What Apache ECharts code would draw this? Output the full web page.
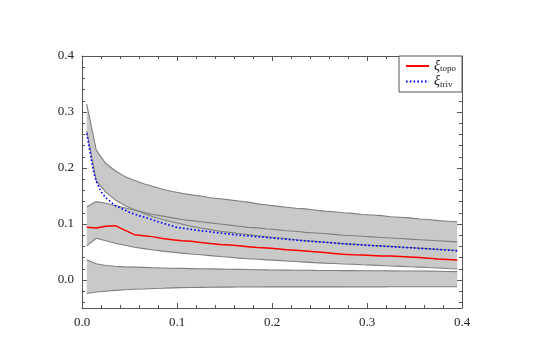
<!DOCTYPE html>
<html>
<head>
<meta charset="utf-8">
<script src="https://cdn.jsdelivr.net/npm/echarts@6/dist/echarts.min.js"></script>
<style>
  html, body { margin: 0; background: #fff; }
  #chart { width: 545px; height: 364px; }
</style>
</head>
<body>
<div id="chart"></div>
<script>
// sample positions shared by the bands and the topo curve
const xs = [0.005, 0.015, 0.025, 0.035, 0.045, 0.055, 0.065, 0.075, 0.085, 0.095,
  0.105, 0.115, 0.125, 0.135, 0.145, 0.155, 0.165, 0.175, 0.185, 0.195,
  0.205, 0.215, 0.225, 0.235, 0.245, 0.255, 0.265, 0.275, 0.285, 0.295,
  0.305, 0.315, 0.325, 0.335, 0.345, 0.355, 0.365, 0.375, 0.385, 0.395]

const upperTop = [0.314, 0.232, 0.208, 0.195, 0.185, 0.178, 0.172, 0.167, 0.162, 0.158,
  0.155, 0.152, 0.150, 0.147, 0.145, 0.143, 0.141, 0.139, 0.136, 0.134,
  0.132, 0.130, 0.128, 0.127, 0.125, 0.123, 0.122, 0.120, 0.119, 0.117,
  0.116, 0.115, 0.113, 0.112, 0.111, 0.109, 0.108, 0.106, 0.105, 0.104]
const upperBottom = [0.266, 0.177, 0.157, 0.143, 0.133, 0.126, 0.119, 0.113, 0.108, 0.104,
  0.100, 0.096, 0.093, 0.090, 0.087, 0.085, 0.083, 0.081, 0.079, 0.077,
  0.0755, 0.074, 0.072, 0.0705, 0.069, 0.0675, 0.066, 0.065, 0.064, 0.063,
  0.062, 0.061, 0.060, 0.059, 0.058, 0.057, 0.056, 0.055, 0.054, 0.053]
const middleTop = [0.131, 0.140, 0.137, 0.133, 0.129, 0.125, 0.121, 0.117, 0.114, 0.111,
  0.108, 0.106, 0.104, 0.102, 0.100, 0.098, 0.096, 0.094, 0.093, 0.091,
  0.090, 0.088, 0.087, 0.085, 0.084, 0.083, 0.0815, 0.080, 0.079, 0.078,
  0.077, 0.076, 0.075, 0.074, 0.073, 0.072, 0.071, 0.070, 0.069, 0.068]
const middleBottom = [0.061, 0.0745, 0.070, 0.0655, 0.062, 0.0585, 0.056, 0.0535, 0.0515, 0.0497,
  0.048, 0.0465, 0.045, 0.0435, 0.042, 0.0405, 0.039, 0.038, 0.037, 0.036,
  0.035, 0.034, 0.033, 0.032, 0.031, 0.0302, 0.0295, 0.0287, 0.028, 0.0272,
  0.0265, 0.0258, 0.025, 0.0243, 0.0236, 0.023, 0.0222, 0.0215, 0.0205, 0.0196]
const lowerTop = [0.036, 0.029, 0.026, 0.0245, 0.0235, 0.023, 0.0225, 0.022, 0.0215, 0.021,
  0.0207, 0.0204, 0.0201, 0.0198, 0.0195, 0.0192, 0.019, 0.0187, 0.0184, 0.0181,
  0.0179, 0.0177, 0.0175, 0.0173, 0.0171, 0.017, 0.0169, 0.0168, 0.0167, 0.0166,
  0.0165, 0.0164, 0.0163, 0.0162, 0.0161, 0.016, 0.0158, 0.0156, 0.0153, 0.015]
const lowerBottom = [-0.024, -0.0215, -0.020, -0.0185, -0.0175, -0.0165, -0.016, -0.0153, -0.0147, -0.014,
  -0.0137, -0.0134, -0.0132, -0.013, -0.0128, -0.0127, -0.0126, -0.0125, -0.0124, -0.0123,
  -0.0123, -0.0123, -0.0123, -0.0123, -0.0123, -0.0123, -0.0123, -0.0122, -0.0122, -0.0122,
  -0.0122, -0.0122, -0.0121, -0.0121, -0.0121, -0.0121, -0.012, -0.012, -0.012, -0.012]

const topo = [0.094, 0.093, 0.096, 0.097, 0.089, 0.081, 0.079, 0.077, 0.074, 0.072,
  0.070, 0.069, 0.067, 0.065, 0.0635, 0.0625, 0.061, 0.0595, 0.058, 0.057,
  0.056, 0.054, 0.053, 0.052, 0.0505, 0.049, 0.0475, 0.046, 0.045, 0.0445,
  0.0438, 0.043, 0.043, 0.042, 0.041, 0.040, 0.039, 0.0375, 0.0365, 0.0355]

const trivX = [0.005, 0.0075, 0.01, 0.0125, 0.015, 0.02, 0.025, 0.03, 0.035, 0.04,
  0.045, 0.05, 0.06, 0.07, 0.08, 0.09, 0.1, 0.12, 0.14, 0.16,
  0.18, 0.2, 0.22, 0.24, 0.26, 0.28, 0.3, 0.32, 0.34, 0.36, 0.38, 0.395]
const triv = [0.262, 0.238, 0.213, 0.191, 0.176, 0.158, 0.147, 0.140, 0.133, 0.129,
  0.125, 0.121, 0.115, 0.110, 0.104, 0.099, 0.094, 0.089, 0.085, 0.081,
  0.078, 0.075, 0.072, 0.069, 0.067, 0.064, 0.062, 0.060, 0.058, 0.056, 0.054, 0.052]

const yMajor = [0, 0.1, 0.2, 0.3, 0.4]
const yMinor = [-0.04, -0.02, 0.02, 0.04, 0.06, 0.08, 0.12, 0.14, 0.16, 0.18,
  0.22, 0.24, 0.26, 0.28, 0.32, 0.34, 0.36, 0.38]

const serif = '"Liberation Serif", "DejaVu Serif", serif'
const frame = '#555'
const fill = '#c9c9c9'
const edgeColor = '#7f7f7f'

const bands = [
  { lo: upperBottom, hi: upperTop },
  { lo: middleBottom, hi: middleTop },
  { lo: lowerBottom, hi: lowerTop },
]

const pairs = (xv, yv) => xv.map((x, i) => [x, yv[i]])

const edge = (yv) => ({
  type: 'line', data: pairs(xs, yv), symbol: 'none', silent: true, z: 2,
  lineStyle: { color: edgeColor, width: 1.1 },
})

const xBase = {
  type: 'value', min: 0, max: 0.4, interval: 0.1,
  axisLine: { show: true, onZero: false, lineStyle: { color: frame, width: 1 } },
  axisTick: { show: true, inside: true, length: 5, lineStyle: { color: frame } },
  minorTick: { show: true, splitNumber: 5, length: 3, lineStyle: { color: frame } },
  splitLine: { show: false },
}
const yBase = {
  type: 'value', min: -0.05, max: 0.4,
  axisLine: { show: true, onZero: false, lineStyle: { color: frame, width: 1 } },
  splitLine: { show: false },
}

const chart = echarts.init(document.getElementById('chart'))
chart.setOption({
  animation: false,
  backgroundColor: '#fff',
  grid: { left: 82, right: 83, top: 56, bottom: 56 },
  xAxis: [
    {
      ...xBase, position: 'bottom',
      axisLabel: { fontFamily: serif, fontSize: 13, color: '#222', margin: 8, formatter: (v) => v.toFixed(1) },
    },
    { ...xBase, position: 'top', axisLabel: { show: false } },
  ],
  yAxis: [
    {
      ...yBase, position: 'left',
      axisTick: { show: true, inside: true, length: 5, customValues: yMajor, lineStyle: { color: frame } },
      axisLabel: { fontFamily: serif, fontSize: 13, color: '#222', margin: 8, customValues: yMajor, formatter: (v) => v.toFixed(1) },
    },
    {
      ...yBase, position: 'right',
      axisTick: { show: true, inside: true, length: 5, customValues: yMajor, lineStyle: { color: frame } },
      axisLabel: { show: false },
    },
    {
      ...yBase, position: 'left', axisLine: { show: false, onZero: false },
      axisTick: { show: true, inside: true, length: 3, customValues: yMinor, lineStyle: { color: frame } },
      axisLabel: { show: false },
    },
    {
      ...yBase, position: 'right', axisLine: { show: false, onZero: false },
      axisTick: { show: true, inside: true, length: 3, customValues: yMinor, lineStyle: { color: frame } },
      axisLabel: { show: false },
    },
  ],
  legend: {
    data: ['topo', 'triv'],
    orient: 'vertical',
    right: 83,
    top: 56,
    padding: [3, 6, 3, 6],
    itemGap: 1,
    itemWidth: 23,
    itemHeight: 10,
    itemStyle: { opacity: 0 },
    borderColor: frame,
    borderWidth: 1,
    borderRadius: 0,
    backgroundColor: '#fff',
    z: 10,
    formatter: (name) => '{g|ξ}{s|' + name + '}',
    textStyle: {
      rich: {
        g: { fontFamily: serif, fontStyle: 'italic', fontSize: 14, color: '#222', lineHeight: 15 },
        s: { fontFamily: serif, fontSize: 9, color: '#222', verticalAlign: 'bottom', lineHeight: 15, padding: [5, 0, 0, 0] },
      },
    },
  },
  series: [
    {
      // shaded bands, outlined through the axis scales
      type: 'custom',
      silent: true,
      z: 1,
      data: bands.map((b) => [xs[0], b.lo[0]]),
      renderItem: (params, api) => {
        const b = bands[params.dataIndex]
        const top = xs.map((x, i) => api.coord([x, b.hi[i]]))
        const bot = xs.map((x, i) => api.coord([x, b.lo[i]])).reverse()
        return { type: 'polygon', shape: { points: top.concat(bot) }, style: { fill: fill } }
      },
    },
    edge(upperTop), edge(upperBottom),
    edge(middleTop), edge(middleBottom),
    edge(lowerTop), edge(lowerBottom),
    {
      name: 'topo', type: 'line', data: pairs(xs, topo), symbol: 'none', z: 3,
      lineStyle: { color: '#ff0000', width: 1.5 },
      itemStyle: { color: '#ff0000' },
    },
    {
      name: 'triv', type: 'line', data: pairs(trivX, triv), symbol: 'none', z: 4,
      lineStyle: { color: '#0000ff', width: 1.6, type: [1.6, 2.2] },
      itemStyle: { color: '#0000ff' },
    },
  ],
})
window.addEventListener('resize', () => chart.resize())
</script>
</body>
</html>
